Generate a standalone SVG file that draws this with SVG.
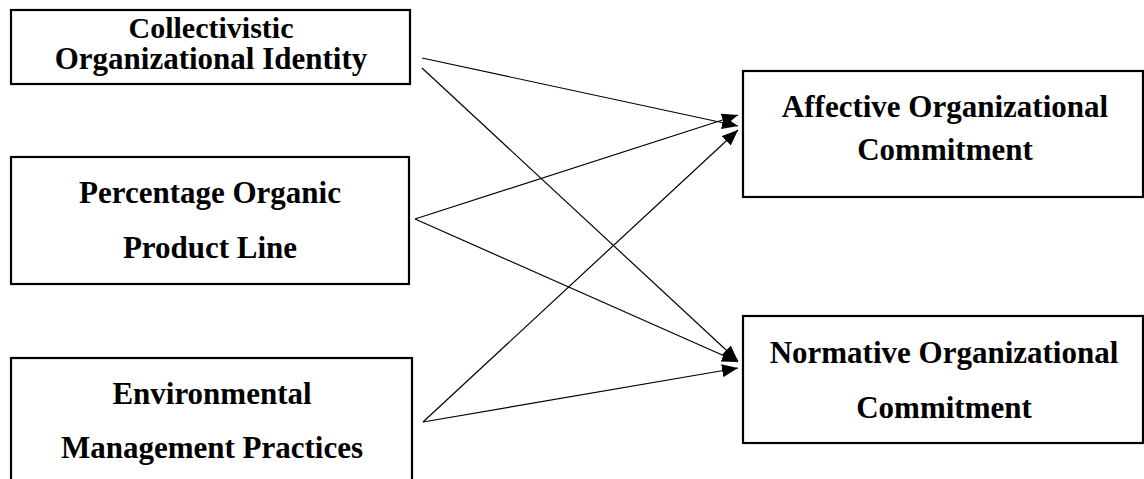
<svg xmlns="http://www.w3.org/2000/svg" width="1144" height="479" viewBox="0 0 1144 479">
<style>
.box{fill:#fff;stroke:#000;stroke-width:2.2}
.t{font-family:"Liberation Serif","Times New Roman",serif;font-weight:bold;font-size:31px;fill:#000;text-anchor:middle}
.s{font-size:30px}
.c{stroke:#000;stroke-width:1.2;fill:none;marker-end:url(#ah)}
</style>
<defs>
<marker id="ah" markerUnits="userSpaceOnUse" markerWidth="17" markerHeight="13" refX="16" refY="6.5" orient="auto">
<path d="M0,0 L16,6.5 L0,13 Z" fill="#000"/>
</marker>
</defs>
<rect width="1144" height="479" fill="#fff"/>
<g id="collectivistic">
<rect class="box" x="11" y="10" width="399" height="74"/>
<text class="t s" x="211" y="38">Collectivistic</text>
<text class="t" x="211" y="69">Organizational Identity</text>
</g>
<g id="percentage">
<rect class="box" x="11" y="157" width="398" height="127"/>
<text class="t" x="210" y="203">Percentage Organic</text>
<text class="t" x="210" y="258">Product Line</text>
</g>
<g id="environmental">
<rect class="box" x="11" y="358" width="401" height="130"/>
<text class="t" x="212" y="404">Environmental</text>
<text class="t" x="212" y="458">Management Practices</text>
</g>
<g id="affective">
<rect class="box" x="743" y="71" width="400" height="126"/>
<text class="t" x="945" y="117">Affective Organizational</text>
<text class="t" x="945" y="160">Commitment</text>
</g>
<g id="normative">
<rect class="box" x="743" y="316" width="400" height="127"/>
<text class="t" x="944" y="363">Normative Organizational</text>
<text class="t" x="944" y="418">Commitment</text>
</g>
<g id="connectors">
<line class="c" x1="422" y1="58" x2="738" y2="126"/>
<line class="c" x1="422" y1="68" x2="738" y2="361"/>
<line class="c" x1="415" y1="219" x2="738" y2="115"/>
<line class="c" x1="415" y1="219" x2="738" y2="362"/>
<line class="c" x1="423" y1="422" x2="738" y2="130"/>
<line class="c" x1="423" y1="422" x2="738" y2="368"/>
</g>
</svg>
